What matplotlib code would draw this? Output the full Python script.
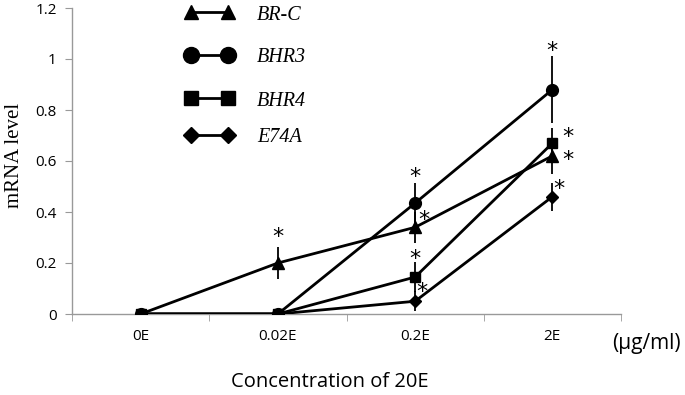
import matplotlib
matplotlib.use("Agg")
import matplotlib.pyplot as plt
from matplotlib.lines import Line2D
from matplotlib.ticker import FixedLocator, FuncFormatter

categories = ["0E", "0.02E", "0.2E", "2E"]
series_names = ["BR-C", "BHR3", "BHR4", "E74A"]
brc = [0, 0.20, 0.34, 0.62]
bhr3 = [0, 0, 0.435, 0.88]
bhr4 = [0, 0, 0.145, 0.67]
e74a = [0, 0, 0.05, 0.46]
brc_err = [0, 0.063, 0.06, 0.07]
bhr3_err = [0, 0, 0.08, 0.13]
bhr4_err = [0, 0, 0.06, 0.06]
e74a_err = [0, 0, 0.04, 0.055]
# significance stars: (series index, category index)
stars = [(0, 1), (1, 2), (0, 2), (2, 2), (3, 2), (1, 3), (2, 3), (0, 3), (3, 3)]
star_offsets = [(0, 19), (0, 19), (6.5, 5.2), (0, 13), (5, 6.5),
                (0, 27.5), (11.5, 4.2), (11.5, -3.2), (5, 5.8)]

values = [brc, bhr3, bhr4, e74a]
errors = [brc_err, bhr3_err, bhr4_err, e74a_err]
markers = ["^", "o", "s", "D"]
msizes = [8.5, 8.5, 7.5, 6.5]
leg_msizes = [10.5, 11.5, 9.5, 8.5]

fig = plt.figure(figsize=(6.85, 3.95), dpi=100)
ax = fig.add_axes([72/685, 81/395, 549/685, 306/395])

x = list(range(len(categories)))
order = [3, 0, 1, 2]
for i in order:
    ax.errorbar(x, values[i], yerr=errors[i], fmt="none", ecolor="black",
                elinewidth=1.3, capsize=0, zorder=2)
for i in order:
    ax.plot(x, values[i], color="black", lw=2.0, marker=markers[i],
            markersize=msizes[i], markerfacecolor="black",
            markeredgecolor="black", zorder=3)

for (si, ci), (dx, dy) in zip(stars, star_offsets):
    yv = values[si][ci]
    ax.annotate("*", xy=(ci, yv), xytext=(dx, dy), textcoords="offset points",
                ha="center", va="center", fontsize=16, family="DejaVu Sans")

ax.set_xlim(-0.5, 3.5)
ax.set_ylim(0, 1.2)
ax.set_yticks([0, 0.2, 0.4, 0.6, 0.8, 1.0, 1.2])
ax.yaxis.set_major_formatter(FuncFormatter(lambda v, p: f"{v:g}"))
ax.set_xticks(x)
ax.set_xticklabels(categories)
ax.xaxis.set_minor_locator(FixedLocator([-0.5, 0.5, 1.5, 2.5, 3.5]))
ax.tick_params(axis="x", which="major", length=0, pad=11, labelsize=11)
ax.tick_params(axis="x", which="minor", length=5, direction="out", color="#999999")
ax.tick_params(axis="y", length=5, direction="out", color="#999999", labelsize=11, pad=6)
for lab in ax.get_xticklabels() + ax.get_yticklabels():
    lab.set_family("Open Sans")
for s in ["top", "right"]:
    ax.spines[s].set_visible(False)
for s in ["left", "bottom"]:
    ax.spines[s].set_color("#999999")
    ax.spines[s].set_linewidth(1.0)

fig.text(15/685, 1 - 155/395, "mRNA level", family="Liberation Serif",
         fontsize=15, ha="center", va="center", rotation=90)
fig.text(330/685, 1 - 382/395, "Concentration of 20E", family="Open Sans",
         fontsize=14.5, ha="center", va="center")
fig.text(612/685, 1 - 343/395, "(\u00b5g/ml)", family="Open Sans",
         fontsize=15, ha="left", va="center")

# legend, drawn manually in figure pixel positions
row_y = [12, 55, 98, 135]
W, H = 685, 395
for i in range(4):
    yy = 1 - row_y[i] / H
    fig.add_artist(Line2D([191/W, 228/W], [yy, yy], transform=fig.transFigure,
                          color="black", lw=2.0, marker=markers[i],
                          markersize=leg_msizes[i], markerfacecolor="black"))
    fig.text(257/W, 1 - (row_y[i] + 3) / H, series_names[i], family="Liberation Serif",
             style="italic", fontsize=14.5, ha="left", va="center")

fig.savefig("out.png", dpi=100)
